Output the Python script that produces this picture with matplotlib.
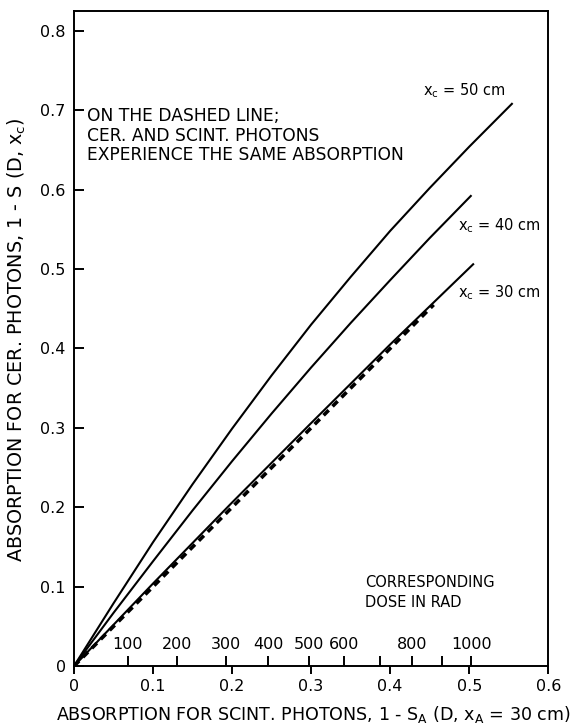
import matplotlib
matplotlib.use("Agg")
import matplotlib.pyplot as plt

# absorption curves, 1 - S(D, x_c) against 1 - S_A(D, x_A = 30 cm)
x_50 = [0, 0.05, 0.10, 0.15, 0.20, 0.25, 0.30, 0.35, 0.40, 0.45, 0.50, 0.554]
y_50 = [0, 0.079, 0.156, 0.229, 0.299, 0.366, 0.430, 0.490, 0.548, 0.602, 0.654, 0.708]

x_40 = [0, 0.05, 0.10, 0.15, 0.20, 0.25, 0.30, 0.35, 0.40, 0.45, 0.502]
y_40 = [0, 0.067, 0.132, 0.196, 0.258, 0.318, 0.376, 0.432, 0.486, 0.539, 0.592]

x_30 = [0, 0.1, 0.2, 0.3, 0.4, 0.505]
y_30 = [0, 0.104, 0.206, 0.306, 0.405, 0.506]

# equal absorption line
x_eq = [0, 0.455]
y_eq = [0, 0.455]

# dose scale drawn along the x axis
dose_rad = [100, 200, 300, 400, 500, 600, 700, 800, 900, 1000]
dose_pos = [0.068, 0.130, 0.192, 0.246, 0.297, 0.342, 0.387, 0.428, 0.465, 0.5025]
dose_labels = ["100", "200", "300", "400", "500", "600", "", "800", "", "1000"]

x_ticks = [0, 0.1, 0.2, 0.3, 0.4, 0.5, 0.6]
x_ticklabels = ["0", "0.1", "0.2", "0.3", "0.4", "0.5", "0.6"]
y_ticks = [0, 0.1, 0.2, 0.3, 0.4, 0.5, 0.6, 0.7, 0.8]
y_ticklabels = ["0", "0.1", "0.2", "0.3", "0.4", "0.5", "0.6", "0.7", "0.8"]

plt.rcParams['font.family'] = 'DejaVu Sans'
plt.rcParams['mathtext.fontset'] = 'dejavusans'

fig = plt.figure(figsize=(5.87, 7.28), dpi=100)
ax = fig.add_axes([0.126, 0.085, 0.808, 0.900])

ax.plot(x_50, y_50, color='black', lw=1.5)
ax.plot(x_40, y_40, color='black', lw=1.5)
ax.plot(x_30, y_30, color='black', lw=1.5)
ax.plot(x_eq, y_eq, color='black', lw=2.6, dashes=(2.0, 1.5))

ax.set_xlim(0, 0.6)
ax.set_ylim(0, 0.825)

for s in ax.spines.values():
    s.set_linewidth(1.4)

ax.set_xticks(x_ticks, x_ticklabels)
ax.set_yticks(y_ticks, y_ticklabels)
ax.tick_params(axis='x', direction='out', length=6, width=1.4, labelsize=11.5, pad=3)
ax.tick_params(axis='y', direction='in', length=7, width=1.4, labelsize=11.5, pad=6)

# dose in rad, ticks pointing into the plot with labels above them
dose_ax = ax.secondary_xaxis('bottom')
dose_ax.set_xticks(dose_pos, dose_labels)
dose_ax.tick_params(axis='x', direction='in', length=7, width=1.4, labelsize=11.5, pad=-10)
dose_ax.spines['bottom'].set_visible(False)
for lbl in dose_ax.get_xticklabels():
    lbl.set_verticalalignment('bottom')

ax.set_xlabel(r"ABSORPTION FOR SCINT. PHOTONS, 1 - S$_\mathrm{A}$ (D, x$_\mathrm{A}$ = 30 cm)",
              fontsize=12.6)
ax.xaxis.set_label_coords(0.505, -0.058)
ax.set_ylabel(r"ABSORPTION FOR CER. PHOTONS, 1 - S (D, x$_\mathrm{c}$)", fontsize=13.8)
ax.yaxis.set_label_coords(-0.097, 0.498)

ax.text(0.016, 0.668, "ON THE DASHED LINE;\nCER. AND SCINT. PHOTONS\nEXPERIENCE THE SAME ABSORPTION",
        fontsize=12.3, va='center', ha='left', linespacing=1.1)
ax.text(0.441, 0.725, r"x$_\mathrm{c}$ = 50 cm", fontsize=10.5, va='center', ha='left')
ax.text(0.486, 0.554, r"x$_\mathrm{c}$ = 40 cm", fontsize=10.5, va='center', ha='left')
ax.text(0.486, 0.470, r"x$_\mathrm{c}$ = 30 cm", fontsize=10.5, va='center', ha='left')
ax.text(0.368, 0.093, "CORRESPONDING\nDOSE IN RAD", fontsize=10.5, va='center', ha='left',
        linespacing=1.45)

fig.savefig("out.png", dpi=100)
